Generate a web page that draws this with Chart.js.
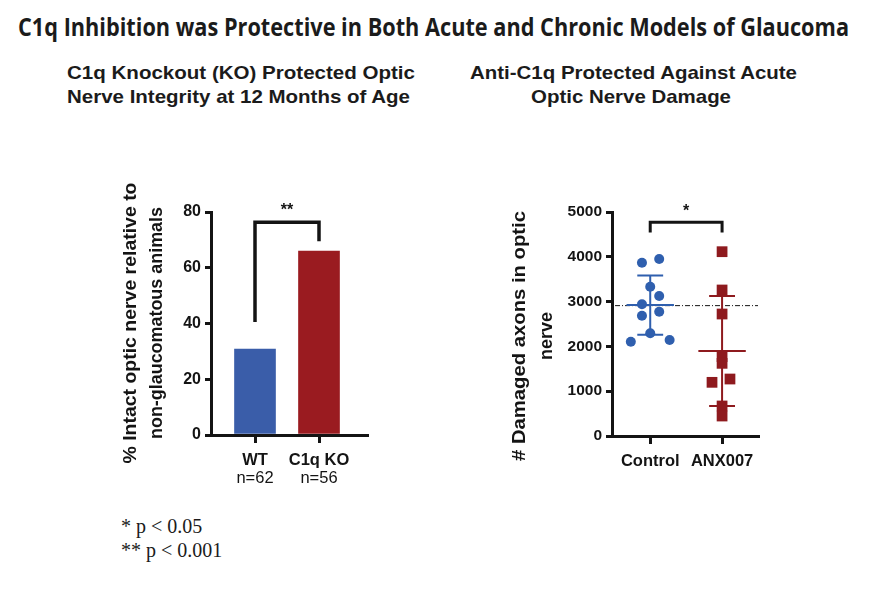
<!DOCTYPE html>
<html>
<head>
<meta charset="utf-8">
<script src="https://cdn.jsdelivr.net/npm/chart.js@4.4.0/dist/chart.umd.min.js"></script>
<style>
  body { margin: 0; background: #fff; width: 877px; height: 597px; overflow: hidden; position: relative; }
  .t { position: absolute; white-space: nowrap; color: #1b1b1b; transform-origin: 0 0; line-height: 1; }
  .chartBox { position: absolute; }
</style>
</head>
<body>
<div class="t" id="mainTitle" style="font: bold 25px 'Open Sans', sans-serif;">C1q Inhibition was Protective in Both Acute and Chronic Models of Glaucoma</div>
<div class="t" id="subL1" style="font: bold 19px 'Liberation Sans', Arial, sans-serif;">C1q Knockout (KO) Protected Optic</div>
<div class="t" id="subL2" style="font: bold 19px 'Liberation Sans', Arial, sans-serif;">Nerve Integrity at 12 Months of Age</div>
<div class="t" id="subR1" style="font: bold 19px 'Liberation Sans', Arial, sans-serif;">Anti-C1q Protected Against Acute</div>
<div class="t" id="subR2" style="font: bold 19px 'Liberation Sans', Arial, sans-serif;">Optic Nerve Damage</div>
<div class="t" id="foot1" style="font: 20px 'Liberation Serif', 'Times New Roman', serif;">* p &lt; 0.05</div>
<div class="t" id="foot2" style="font: 20px 'Liberation Serif', 'Times New Roman', serif;">** p &lt; 0.001</div>

<div class="chartBox" style="left:100px; top:180px; width:280px; height:320px;"><canvas id="koChart"></canvas></div>
<div class="chartBox" style="left:480px; top:180px; width:300px; height:320px;"><canvas id="anxChart"></canvas></div>

<script>
// ---- data: left panel (C1q KO) ----
const koGroups  = ['WT', 'C1q KO'];
const koCounts  = ['n=62', 'n=56'];
const koValues  = [30.8, 66];
const koBracket = [40.5, 76.3, 69.5];   // WT arm bottom, top, KO arm bottom
const koTicks   = [0, 20, 40, 60, 80];

// ---- data: right panel (anti-C1q) ----
const anxGroups   = ['Control', 'ANX007'];
const controlX    = [0.885, 1.125, 1, 1.125, 0.885, 0.885, 1.125, 1, 0.73, 1.27];
const controlY    = [3868, 3950, 3333, 3125, 2940, 2686, 2775, 2292, 2105, 2143];
const anxX        = [2, 2, 2, 2, 2, 1.86, 2.11, 2, 2];
const anxY        = [4114, 3259, 2723, 1771, 1622, 1198, 1272, 670, 446];
const anxRefLine  = 2910;
const anxBracket  = [4540, 4770];
const anxTicks    = [0, 1000, 2000, 3000, 4000, 5000];

const ink   = '#141414';
const blueB = '#3a5da9';
const redB  = '#9a1b20';
const blueP = '#2f5fae';
const redP  = '#8e1a1e';
const sans  = '"Liberation Sans", Arial, sans-serif';

// ---- page text placement (stretch each line to its span) ----
function place(id, x0, x1, top) {
  const el = document.getElementById(id);
  const w = el.getBoundingClientRect().width;
  el.style.left = x0 + 'px';
  el.style.top = top + 'px';
  if (x1) el.style.transform = 'scaleX(' + ((x1 - x0) / w) + ')';
}
place('mainTitle', 18, 849, 9);
place('subL1', 67, 415, 62);
place('subL2', 67, 410, 86);
place('subR1', 470, 797, 62);
place('subR2', 531, 731, 86);
place('foot1', 121, null, 515);
place('foot2', 121, null, 539);

function mean(a) { return a.reduce((s, v) => s + v, 0) / a.length; }
function sd(a) {
  const m = mean(a);
  return Math.sqrt(a.reduce((s, v) => s + (v - m) * (v - m), 0) / (a.length - 1));
}
// mean line + SD whiskers as one broken line
function errBars(cx, m, s, halfMean, halfCap) {
  const gap = { x: cx, y: null };
  return [
    { x: cx - halfMean, y: m }, { x: cx + halfMean, y: m }, gap,
    { x: cx, y: m - s }, { x: cx, y: m + s }, gap,
    { x: cx - halfCap, y: m + s }, { x: cx + halfCap, y: m + s }, gap,
    { x: cx - halfCap, y: m - s }, { x: cx + halfCap, y: m - s },
  ];
}

// ---- text drawn on the chart canvases ----
const axisText = {
  id: 'axisText',
  afterDraw(chart, args, opts) {
    const ctx = chart.ctx;
    const xs = chart.scales.x, ys = chart.scales.y;
    const ca = chart.chartArea;
    ctx.save();
    ctx.fillStyle = ink;
    ctx.textAlign = 'center';
    ctx.textBaseline = 'middle';
    // category labels
    opts.groups.forEach((g, i) => {
      const x = xs.getPixelForValue(i + 1);
      ctx.font = 'bold ' + opts.labelSize + 'px ' + sans;
      ctx.fillText(g, x, ca.bottom + 25);
      if (opts.counts) {
        ctx.font = opts.labelSize + 'px ' + sans;
        ctx.fillText(opts.counts[i], x, ca.bottom + 43);
      }
    });
    // significance stars
    ctx.font = 'bold 16px ' + sans;
    ctx.fillText(opts.stars, xs.getPixelForValue(1.5), ys.getPixelForValue(opts.starY));
    // rotated y title, each line stretched to its span
    ctx.font = 'bold 17px ' + sans;
    opts.yTitle.forEach((line, i) => {
      const w = ctx.measureText(line).width;
      ctx.save();
      ctx.translate(opts.yTitleX[i], opts.yTitleY);
      ctx.rotate(-Math.PI / 2);
      ctx.scale(opts.yTitleLen[i] / w, 1.12);
      ctx.fillText(line, 0, 0);
      ctx.restore();
    });
    ctx.restore();
  }
};

function xAxis(min, max, h, z) {
  return {
    type: 'linear', min: min, max: max, offset: false, z: z || 0,
    afterBuildTicks(s) { s.ticks = [{ value: 1 }, { value: 2 }]; },
    afterFit(s) { s.height = h; },
    ticks: { display: false },
    grid: { offset: false, drawOnChartArea: false, drawTicks: true, tickLength: 8, color: ink, lineWidth: 3 },
    border: { color: ink, width: 3 },
  };
}
function yAxis(max, ticks, w, size) {
  return {
    min: 0, max: max,
    afterBuildTicks(s) { s.ticks = ticks.map(v => ({ value: v })); },
    afterFit(s) { s.width = w; },
    ticks: { color: ink, padding: 4, callback: v => String(v), font: { family: sans, size: size, weight: 'bold' } },
    grid: { drawOnChartArea: false, drawTicks: true, tickLength: 6, color: ink, lineWidth: 3 },
    border: { color: ink, width: 3 },
  };
}

// ---- left chart ----
new Chart(document.getElementById('koChart'), {
  type: 'bar',
  data: {
    datasets: [
      {
        type: 'line',
        data: [{ x: 1, y: koBracket[0] }, { x: 1, y: koBracket[1] }, { x: 2, y: koBracket[1] }, { x: 2, y: koBracket[2] }],
        borderColor: ink, borderWidth: 3.5, pointRadius: 0, tension: 0,
      },
      {
        type: 'bar',
        data: koValues.map((v, i) => ({ x: i + 1, y: v })),
        backgroundColor: [blueB, redB],
        barThickness: 41,
      },
    ],
  },
  options: {
    responsive: true, maintainAspectRatio: false, animation: false,
    layout: { padding: { top: 32, right: 13, left: 0, bottom: 0 } },
    plugins: {
      legend: { display: false }, tooltip: { enabled: false },
      axisText: { groups: koGroups, counts: koCounts, labelSize: 16.5, stars: '**', starY: 80.5,
        yTitle: ['% Intact optic nerve relative to', 'non-glaucomatous animals'],
        yTitleLen: [281, 232], yTitleX: [31, 57], yTitleY: 143 },
    },
    scales: {
      x: xAxis(0.3125, 2.75, 65, 1),
      y: yAxis(80, koTicks, 111, 16),
    },
  },
  plugins: [axisText],
});

// ---- right chart ----
const cm = mean(controlY), cs = sd(controlY);
const am = mean(anxY), as = sd(anxY);

new Chart(document.getElementById('anxChart'), {
  type: 'scatter',
  data: {
    datasets: [
      {
        data: controlY.map((v, i) => ({ x: controlX[i], y: v })),
        backgroundColor: blueP, borderWidth: 0, pointRadius: 5, pointStyle: 'circle',
      },
      {
        data: anxY.map((v, i) => ({ x: anxX[i], y: v })),
        backgroundColor: redP, borderWidth: 0, pointRadius: 7.6, pointStyle: 'rect',
      },
      {
        type: 'line', data: errBars(1, cm, cs, 0.33, 0.18),
        borderColor: blueP, borderWidth: 2, pointRadius: 0, spanGaps: false, tension: 0,
      },
      {
        type: 'line', data: errBars(2, am, as, 0.33, 0.18),
        borderColor: redP, borderWidth: 2, pointRadius: 0, spanGaps: false, tension: 0,
      },
      {
        type: 'line',
        data: [{ x: 0.51, y: anxRefLine }, { x: 2.5, y: anxRefLine }],
        borderColor: ink, borderWidth: 1, borderDash: [5, 2, 1, 2], pointRadius: 0,
      },
      {
        type: 'line',
        data: [{ x: 1, y: anxBracket[0] }, { x: 1, y: anxBracket[1] }, { x: 2, y: anxBracket[1] }, { x: 2, y: anxBracket[0] }],
        borderColor: ink, borderWidth: 3, pointRadius: 0, tension: 0,
      },
    ],
  },
  options: {
    responsive: true, maintainAspectRatio: false, animation: false,
    layout: { padding: { top: 32, right: 22, left: 0, bottom: 0 } },
    plugins: {
      legend: { display: false }, tooltip: { enabled: false },
      axisText: { groups: anxGroups, labelSize: 16.5, stars: '*', starY: 5000,
        yTitle: ['# Damaged axons in optic', 'nerve'],
        yTitleLen: [250, 48], yTitleX: [40, 67], yTitleY: 156 },
    },
    scales: {
      x: xAxis(0.468, 2.5, 64, 0),
      y: yAxis(5000, anxTicks, 132, 15.5),
    },
  },
  plugins: [axisText],
});
</script>
</body>
</html>
